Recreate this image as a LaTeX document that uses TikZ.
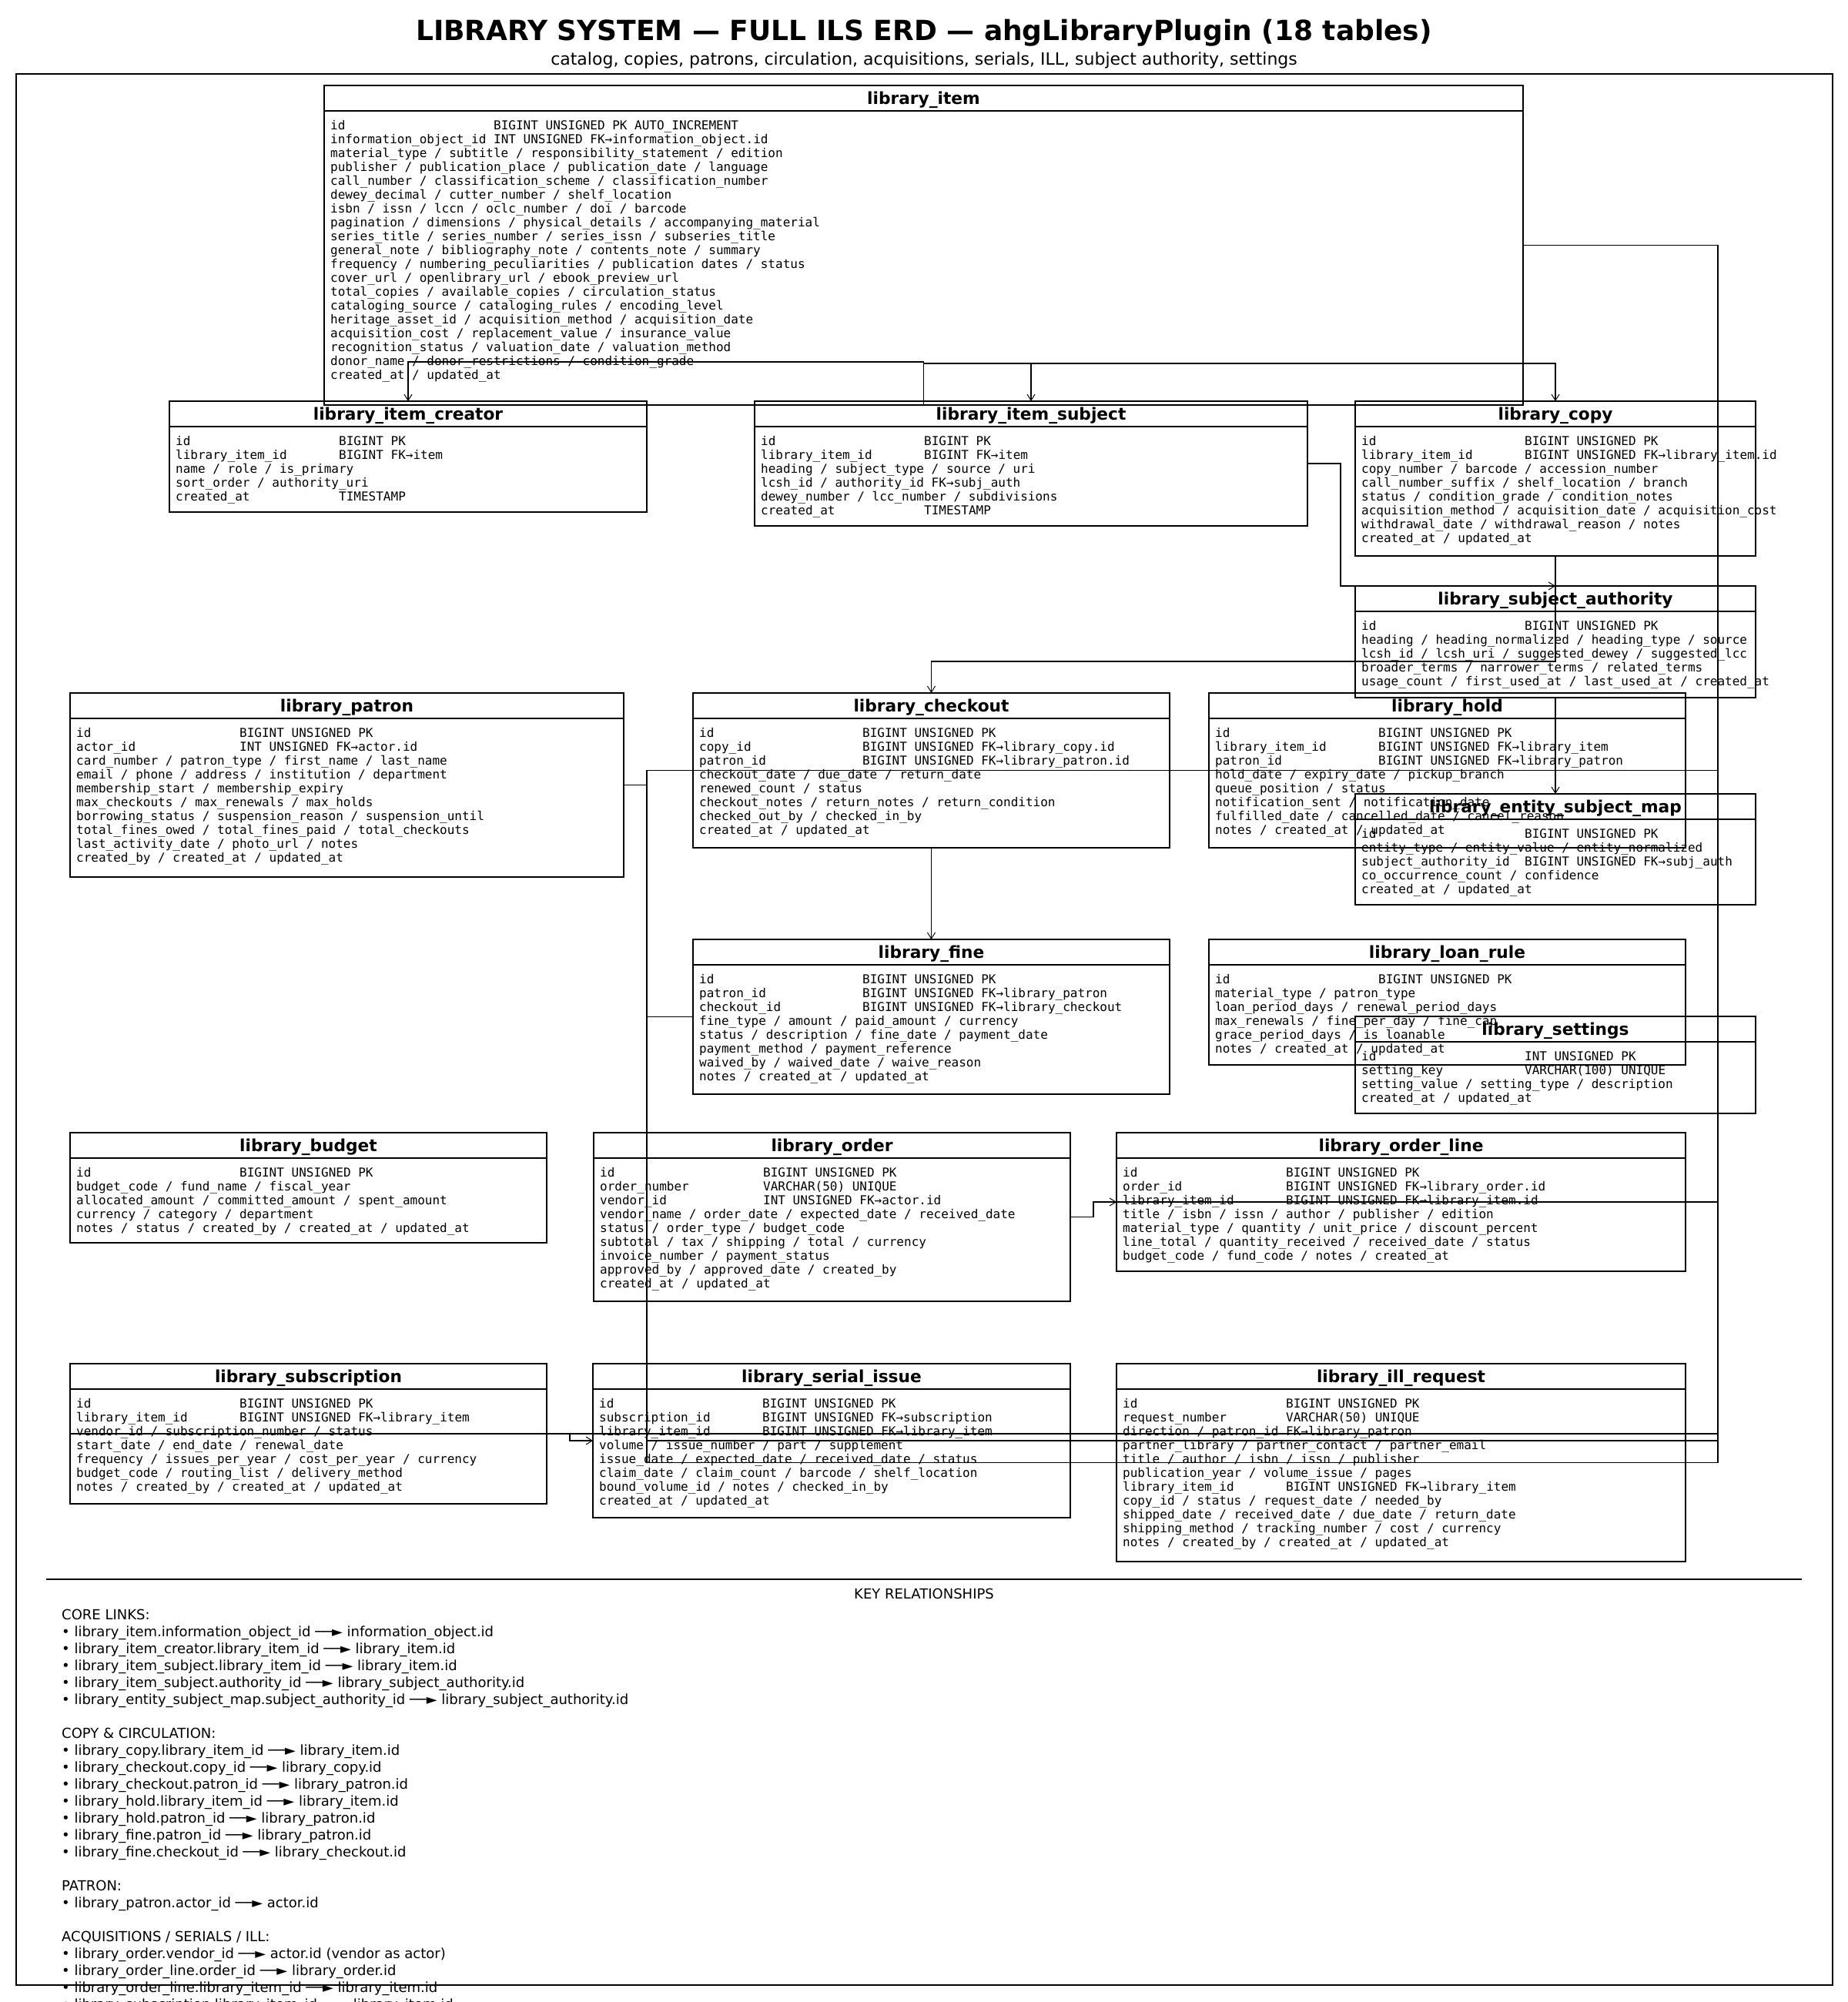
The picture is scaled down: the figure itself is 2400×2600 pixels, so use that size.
\documentclass[tikz,border=0pt]{standalone}
\usepackage{fontspec}
\setmainfont{DejaVu Sans}
\newfontfamily\monof{DejaVu Sans Mono}
\newfontfamily\sansf{DejaVu Sans}
\usetikzlibrary{arrows.meta}
\newcommand\tc[2]{\makebox[212pt][l]{#1}#2}
\tikzset{
 tbl/.style={draw, line width=2pt, rectangle, anchor=north west, inner sep=0pt, outer sep=0pt},
 hdr/.style={anchor=base, inner sep=0pt, font=\sansf\bfseries\fontsize{21.7}{26}\selectfont},
 rowtxt/.style={anchor=base west, inner sep=0pt, font=\monof\fontsize{16}{18}\selectfont},
 boxline/.style={line width=2pt},
 conn/.style={line width=1.7pt},
 arr/.style={conn, -{Straight Barb[length=8pt, width=10pt, line width=1pt 0]}},
 keytext/.style={anchor=base west, inner sep=0pt, font=\sansf\fontsize{18}{22}\selectfont},
}
% #1 name, #2 x, #3 y, #4 w, #5 h, #6 title, #7 rows
\newcommand\erdtable[7]{%
  \node[tbl, minimum width=#4pt, minimum height=#5pt] (#1) at (#2,#3) {};
  \draw[boxline] ([yshift=-33pt]#1.north west) -- ([yshift=-33pt]#1.north east);
  \node[hdr] (#1-t) at ([yshift=-24pt]#1.north) {#6};
  \foreach \rowtext [count=\ri from 0] in {#7} {
    \node[rowtxt] (#1-r\ri) at ({#2+8},{#3+57+18*\ri}) {\rowtext};
  }
}
\begin{document}
\catcode`\_=12
\begin{tikzpicture}[x=1pt,y=-1pt]
\useasboundingbox (0,0) rectangle (2400,2600);
\fill[white] (0,0) rectangle (2400,2600);

\node[anchor=base, inner sep=0pt, font=\sansf\bfseries\fontsize{36}{40}\selectfont] (title) at (1200,52) {LIBRARY SYSTEM — FULL ILS ERD — ahgLibraryPlugin (18 tables)};
\node[anchor=base, inner sep=0pt, font=\sansf\fontsize{22}{26}\selectfont] (subtitle) at (1200,84) {catalog, copies, patrons, circulation, acquisitions, serials, ILL, subject authority, settings};

\node[draw, line width=2pt, rectangle, anchor=north west, inner sep=0pt, outer sep=0pt, minimum width=2359pt, minimum height=2482pt] (frame) at (21,96) {};

% ---------------- tables ----------------
\erdtable{item}{421}{111}{1557}{415}{library_item}{%
 {\tc{id}{BIGINT UNSIGNED PK AUTO_INCREMENT}},
 {\tc{information_object_id}{INT UNSIGNED FK→information_object.id}},
 {material_type / subtitle / responsibility_statement / edition},
 {publisher / publication_place / publication_date / language},
 {call_number / classification_scheme / classification_number},
 {dewey_decimal / cutter_number / shelf_location},
 {isbn / issn / lccn / oclc_number / doi / barcode},
 {pagination / dimensions / physical_details / accompanying_material},
 {series_title / series_number / series_issn / subseries_title},
 {general_note / bibliography_note / contents_note / summary},
 {frequency / numbering_peculiarities / publication dates / status},
 {cover_url / openlibrary_url / ebook_preview_url},
 {total_copies / available_copies / circulation_status},
 {cataloging_source / cataloging_rules / encoding_level},
 {heritage_asset_id / acquisition_method / acquisition_date},
 {acquisition_cost / replacement_value / insurance_value},
 {recognition_status / valuation_date / valuation_method},
 {donor_name / donor_restrictions / condition_grade},
 {created_at / updated_at}}

\erdtable{creator}{220}{521}{620}{144}{library_item_creator}{%
 {\tc{id}{BIGINT PK}},
 {\tc{library_item_id}{BIGINT FK→item}},
 {name / role / is_primary},
 {sort_order / authority_uri},
 {\tc{created_at}{TIMESTAMP}}}

\erdtable{subject}{980}{521}{718}{162}{library_item_subject}{%
 {\tc{id}{BIGINT PK}},
 {\tc{library_item_id}{BIGINT FK→item}},
 {heading / subject_type / source / uri},
 {lcsh_id / authority_id FK→subj_auth},
 {dewey_number / lcc_number / subdivisions},
 {\tc{created_at}{TIMESTAMP}}}

\erdtable{copy}{1760}{521}{520}{201}{library_copy}{%
 {\tc{id}{BIGINT UNSIGNED PK}},
 {\tc{library_item_id}{BIGINT UNSIGNED FK→library_item.id}},
 {copy_number / barcode / accession_number},
 {call_number_suffix / shelf_location / branch},
 {status / condition_grade / condition_notes},
 {acquisition_method / acquisition_date / acquisition_cost},
 {withdrawal_date / withdrawal_reason / notes},
 {created_at / updated_at}}

\erdtable{authority}{1760}{761}{520}{145}{library_subject_authority}{%
 {\tc{id}{BIGINT UNSIGNED PK}},
 {heading / heading_normalized / heading_type / source},
 {lcsh_id / lcsh_uri / suggested_dewey / suggested_lcc},
 {broader_terms / narrower_terms / related_terms},
 {usage_count / first_used_at / last_used_at / created_at}}

\erdtable{patron}{91}{900}{719}{239}{library_patron}{%
 {\tc{id}{BIGINT UNSIGNED PK}},
 {\tc{actor_id}{INT UNSIGNED FK→actor.id}},
 {card_number / patron_type / first_name / last_name},
 {email / phone / address / institution / department},
 {membership_start / membership_expiry},
 {max_checkouts / max_renewals / max_holds},
 {borrowing_status / suspension_reason / suspension_until},
 {total_fines_owed / total_fines_paid / total_checkouts},
 {last_activity_date / photo_url / notes},
 {created_by / created_at / updated_at}}

\erdtable{checkout}{900}{900}{619}{201}{library_checkout}{%
 {\tc{id}{BIGINT UNSIGNED PK}},
 {\tc{copy_id}{BIGINT UNSIGNED FK→library_copy.id}},
 {\tc{patron_id}{BIGINT UNSIGNED FK→library_patron.id}},
 {checkout_date / due_date / return_date},
 {renewed_count / status},
 {checkout_notes / return_notes / return_condition},
 {checked_out_by / checked_in_by},
 {created_at / updated_at}}

\erdtable{hold}{1570}{900}{619}{201}{library_hold}{%
 {\tc{id}{BIGINT UNSIGNED PK}},
 {\tc{library_item_id}{BIGINT UNSIGNED FK→library_item}},
 {\tc{patron_id}{BIGINT UNSIGNED FK→library_patron}},
 {hold_date / expiry_date / pickup_branch},
 {queue_position / status},
 {notification_sent / notification_date},
 {fulfilled_date / cancelled_date / cancel_reason},
 {notes / created_at / updated_at}}

\erdtable{esm}{1760}{1031}{520}{144}{library_entity_subject_map}{%
 {\tc{id}{BIGINT UNSIGNED PK}},
 {entity_type / entity_value / entity_normalized},
 {\tc{subject_authority_id}{BIGINT UNSIGNED FK→subj_auth}},
 {co_occurrence_count / confidence},
 {created_at / updated_at}}

\erdtable{fine}{900}{1220}{619}{201}{library_fine}{%
 {\tc{id}{BIGINT UNSIGNED PK}},
 {\tc{patron_id}{BIGINT UNSIGNED FK→library_patron}},
 {\tc{checkout_id}{BIGINT UNSIGNED FK→library_checkout}},
 {fine_type / amount / paid_amount / currency},
 {status / description / fine_date / payment_date},
 {payment_method / payment_reference},
 {waived_by / waived_date / waive_reason},
 {notes / created_at / updated_at}}

\erdtable{loanrule}{1570}{1220}{619}{163}{library_loan_rule}{%
 {\tc{id}{BIGINT UNSIGNED PK}},
 {material_type / patron_type},
 {loan_period_days / renewal_period_days},
 {max_renewals / fine_per_day / fine_cap},
 {grace_period_days / is_loanable},
 {notes / created_at / updated_at}}

\erdtable{settings}{1760}{1320}{520}{126}{library_settings}{%
 {\tc{id}{INT UNSIGNED PK}},
 {\tc{setting_key}{VARCHAR(100) UNIQUE}},
 {setting_value / setting_type / description},
 {created_at / updated_at}}

\erdtable{budget}{91}{1471}{619}{143}{library_budget}{%
 {\tc{id}{BIGINT UNSIGNED PK}},
 {budget_code / fund_name / fiscal_year},
 {allocated_amount / committed_amount / spent_amount},
 {currency / category / department},
 {notes / status / created_by / created_at / updated_at}}

\erdtable{order}{771}{1471}{619}{219}{library_order}{%
 {\tc{id}{BIGINT UNSIGNED PK}},
 {\tc{order_number}{VARCHAR(50) UNIQUE}},
 {\tc{vendor_id}{INT UNSIGNED FK→actor.id}},
 {vendor_name / order_date / expected_date / received_date},
 {status / order_type / budget_code},
 {subtotal / tax / shipping / total / currency},
 {invoice_number / payment_status},
 {approved_by / approved_date / created_by},
 {created_at / updated_at}}

\erdtable{orderline}{1450}{1471}{739}{180}{library_order_line}{%
 {\tc{id}{BIGINT UNSIGNED PK}},
 {\tc{order_id}{BIGINT UNSIGNED FK→library_order.id}},
 {\tc{library_item_id}{BIGINT UNSIGNED FK→library_item.id}},
 {title / isbn / issn / author / publisher / edition},
 {material_type / quantity / unit_price / discount_percent},
 {line_total / quantity_received / received_date / status},
 {budget_code / fund_code / notes / created_at}}

\erdtable{subscription}{91}{1771}{619}{182}{library_subscription}{%
 {\tc{id}{BIGINT UNSIGNED PK}},
 {\tc{library_item_id}{BIGINT UNSIGNED FK→library_item}},
 {vendor_id / subscription_number / status},
 {start_date / end_date / renewal_date},
 {frequency / issues_per_year / cost_per_year / currency},
 {budget_code / routing_list / delivery_method},
 {notes / created_by / created_at / updated_at}}

\erdtable{serial}{770}{1771}{620}{200}{library_serial_issue}{%
 {\tc{id}{BIGINT UNSIGNED PK}},
 {\tc{subscription_id}{BIGINT UNSIGNED FK→subscription}},
 {\tc{library_item_id}{BIGINT UNSIGNED FK→library_item}},
 {volume / issue_number / part / supplement},
 {issue_date / expected_date / received_date / status},
 {claim_date / claim_count / barcode / shelf_location},
 {bound_volume_id / notes / checked_in_by},
 {created_at / updated_at}}

\erdtable{ill}{1450}{1771}{739}{257}{library_ill_request}{%
 {\tc{id}{BIGINT UNSIGNED PK}},
 {\tc{request_number}{VARCHAR(50) UNIQUE}},
 {direction / patron_id FK→library_patron},
 {partner_library / partner_contact / partner_email},
 {title / author / isbn / issn / publisher},
 {publication_year / volume_issue / pages},
 {\tc{library_item_id}{BIGINT UNSIGNED FK→library_item}},
 {copy_id / status / request_date / needed_by},
 {shipped_date / received_date / due_date / return_date},
 {shipping_method / tracking_number / cost / currency},
 {notes / created_by / created_at / updated_at}}

% ---------------- connectors ----------------
\coordinate (rt) at (2231,0);
\coordinate (lt) at (840,0);
\coordinate (yA) at (0,470);
\coordinate (yB) at (0,472);
\coordinate (yC) at (0,859);
\coordinate (xS) at (1741,0);
\coordinate (xO) at (1420,0);
\coordinate (xU) at (740,0);

\draw[arr] (item.south) -- (item.south |- yA) -- (creator.north |- yA) -- (creator.north);
\draw[arr] (item.south) -- (item.south |- yB) -- (subject.north |- yB) -- (subject.north);
\draw[arr] (item.south) -- (item.south |- yB) -- (copy.north |- yB) -- (copy.north);
\draw[arr] (subject.east) -- (xS |- subject.east) -- (xS |- authority.north) -- (authority.north);
\draw[arr] (copy.south) -- (copy.south |- yC) -- (checkout.north |- yC) -- (checkout.north);
\draw[arr] (authority.south) -- (esm.north);
\draw[arr] (checkout.south) -- (fine.north);

% patron trunk
\draw[conn] (patron.east) -- (lt |- patron.east) -- (lt |- checkout.west) -- (checkout.west);
\draw[conn] (patron.east) -- (lt |- patron.east) -- (lt |- hold.west) -- (hold.west);
\draw[conn] (patron.east) -- (lt |- patron.east) -- (lt |- fine.west) -- (fine.west);
\draw[conn] (patron.east) -- (lt |- patron.east) -- (lt |- ill.west) -- (ill.west);

% library_item trunk
\draw[conn] (item.east) -- (rt |- item.east) -- (rt |- hold.west) -- (hold.west);
\draw[conn] (item.east) -- (rt |- item.east) -- (rt |- orderline.west) -- (orderline.west);
\draw[conn] (item.east) -- (rt |- item.east) -- (rt |- subscription.west) -- (subscription.west);
\draw[conn] (item.east) -- (rt |- item.east) -- (rt |- serial.west) -- (lt |- serial.west);
\draw[conn] (item.east) -- (rt |- item.east) -- (rt |- ill.west) -- (ill.west);

\draw[arr] (order.east) -- (xO |- order.east) -- (xO |- orderline.west) -- (orderline.west);
\draw[arr] (subscription.east) -- (xU |- subscription.east) -- (xU |- serial.west) -- (serial.west);

% ---------------- key relationships ----------------
\coordinate (sepL) at (60,2051);
\coordinate (sepR) at (2340,2051);
\draw[line width=2pt] (sepL) -- (sepR);
\node[anchor=base, inner sep=0pt, font=\sansf\fontsize{18}{22}\selectfont] (keytitle) at (1200,2076) {KEY RELATIONSHIPS};
\foreach \kt [count=\ki from 0] in {%
 {CORE LINKS:},
 {• library_item.information_object_id ──► information_object.id},
 {• library_item_creator.library_item_id ──► library_item.id},
 {• library_item_subject.library_item_id ──► library_item.id},
 {• library_item_subject.authority_id ──► library_subject_authority.id},
 {• library_entity_subject_map.subject_authority_id ──► library_subject_authority.id},
 {},
 {COPY \& CIRCULATION:},
 {• library_copy.library_item_id ──► library_item.id},
 {• library_checkout.copy_id ──► library_copy.id},
 {• library_checkout.patron_id ──► library_patron.id},
 {• library_hold.library_item_id ──► library_item.id},
 {• library_hold.patron_id ──► library_patron.id},
 {• library_fine.patron_id ──► library_patron.id},
 {• library_fine.checkout_id ──► library_checkout.id},
 {},
 {PATRON:},
 {• library_patron.actor_id ──► actor.id},
 {},
 {ACQUISITIONS / SERIALS / ILL:},
 {• library_order.vendor_id ──► actor.id (vendor as actor)},
 {• library_order_line.order_id ──► library_order.id},
 {• library_order_line.library_item_id ──► library_item.id},
 {• library_subscription.library_item_id ──► library_item.id}} {
  \node[keytext] (key\ki) at (80,{2103+22*\ki}) {\kt};
}
\end{tikzpicture}
\end{document}
